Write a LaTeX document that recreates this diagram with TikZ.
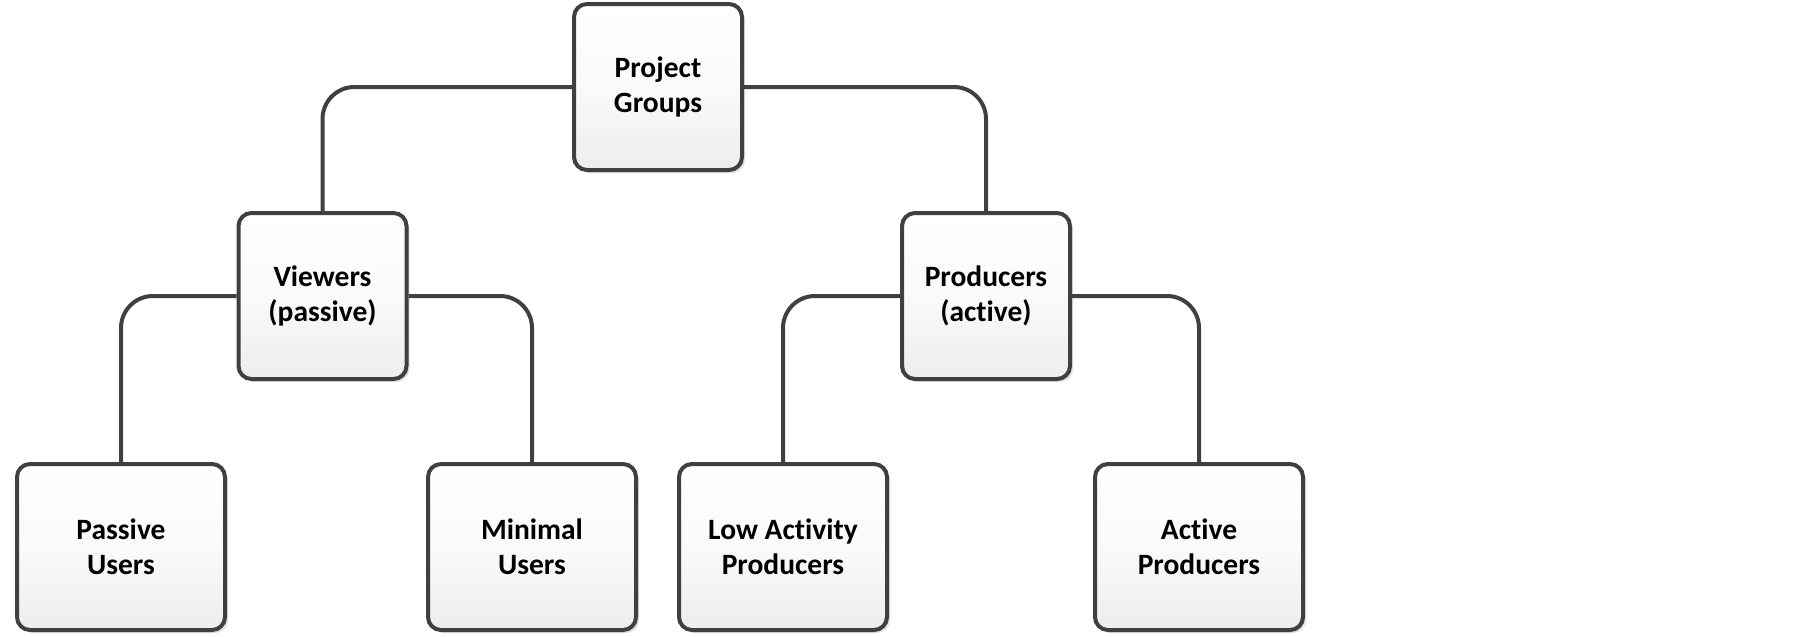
\documentclass[tikz,border=0pt]{standalone}
\usepackage{fontspec}
\setmainfont{Carlito}[Ligatures=NoCommon]
\usetikzlibrary{shadows}
\definecolor{edgegray}{HTML}{404040}
\tikzset{
  box/.style={draw=edgegray, line width=4pt, rounded corners=13pt,
    top color=white, bottom color=black!7, middle color=black!2,
    minimum height=166pt, align=center, text=black,
    font=\fontsize{29.5}{35}\selectfont\bfseries,
    drop shadow={shadow xshift=3pt, shadow yshift=-3pt, fill=black!12, opacity=1}},
  midbox/.style={box, minimum width=168pt},
  leafbox/.style={box, minimum width=208pt},
  conn/.style={draw=edgegray, line width=4pt, rounded corners=32pt}
}
\begin{document}
\begin{tikzpicture}[x=1pt,y=-1pt]
\useasboundingbox (0,0) rectangle (1805,637);
\node[midbox] (pg) at (658,87) {Project\\Groups};
\node[midbox] (vw) at (322.5,296) {Viewers\\(passive)};
\node[midbox] (pr) at (986,296) {Producers\\(active)};
\node[leafbox] (pu) at (121,547) {Passive\\Users};
\node[leafbox] (mu) at (532,547) {Minimal\\Users};
\node[leafbox] (lp) at (783,547) {Low Activity\\Producers};
\node[leafbox] (ap) at (1199,547) {Active\\Producers};
\draw[conn] (pg.west) -| (vw.north);
\draw[conn] (pg.east) -| (pr.north);
\draw[conn] (vw.west) -| (pu.north);
\draw[conn] (vw.east) -| (mu.north);
\draw[conn] (pr.west) -| (lp.north);
\draw[conn] (pr.east) -| (ap.north);
\end{tikzpicture}
\end{document}
